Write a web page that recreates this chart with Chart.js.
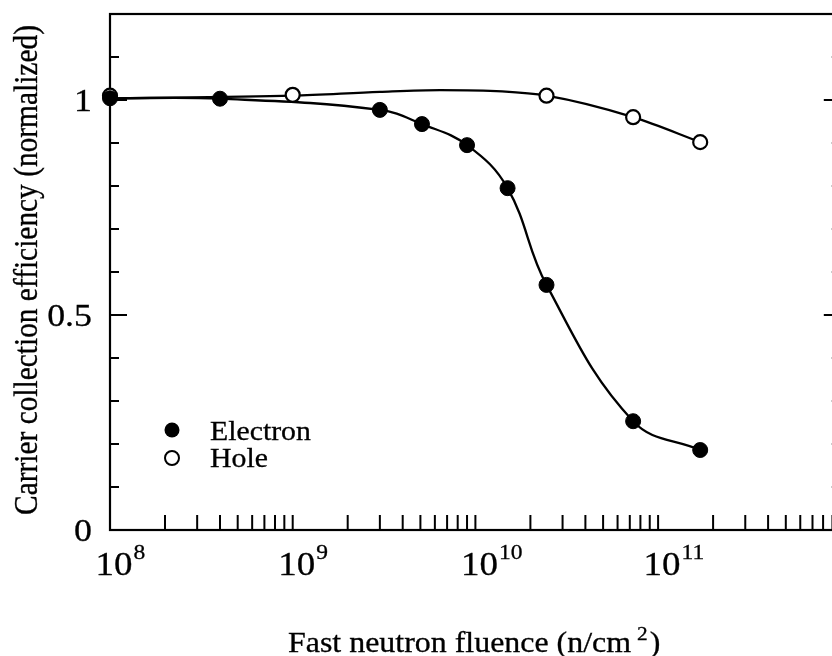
<!DOCTYPE html>
<html>
<head>
<meta charset="utf-8">
<script src="https://cdn.jsdelivr.net/npm/chart.js@4.4.1/dist/chart.umd.min.js"></script>
<style>
  html, body { margin: 0; padding: 0; background: #fff; overflow: hidden; }
  #wrap { position: relative; width: 850px; height: 656px; }
</style>
</head>
<body>
<div id="wrap"><canvas id="chart"></canvas></div>
<script>
// fast neutron fluence (n/cm^2) vs normalized carrier collection efficiency
const electronFluence = [1e8, 4.0e8, 3.0e9, 5.1e9, 9.0e9, 1.5e10, 2.45e10, 7.3e10, 1.7e11];
const electronEff     = [1.004, 1.003, 0.977, 0.944, 0.895, 0.795, 0.570, 0.253, 0.186];

const holeFluence = [1e8, 1e9, 2.45e10, 7.3e10, 1.7e11];
const holeEff     = [1.010, 1.012, 1.010, 0.960, 0.902];

// guide curve through the hole points
const holeCurveFluence = [1e8, 1e9, 3e9, 6.4e9, 1.4e10, 2.45e10, 7.3e10, 1.7e11];
const holeCurveEff     = [1.004, 1.010, 1.019, 1.023, 1.020, 1.010, 0.960, 0.902];

const yMajor = [0, 0.5, 1];
const yMajorLabels = ["0", "0.5", "1"];
const yMinor = [0.1, 0.2, 0.3, 0.4, 0.6, 0.7, 0.8, 0.9, 1.1];
const xDecades = [8, 9, 10, 11];

// tick marks on the log axis: 2..9 in every decade and the decades themselves
const xTickMarks = [];
[8, 9, 10, 11].forEach(d => {
    for (let m = 2; m <= 10; m++) xTickMarks.push(m * Math.pow(10, d));
});

const serif = '"Liberation Serif", "Times New Roman", serif';
const SX = 1.12; // the scanned figure is a bit wider than tall

function toXY(xs, ys) {
    return xs.map((v, i) => ({ x: v, y: ys[i] }));
}

function wideText(ctx, str, x, y, size, align) {
    ctx.save();
    ctx.font = size + "px " + serif;
    const w = ctx.measureText(str).width * SX;
    let left = x;
    if (align === "center") left = x - w / 2;
    if (align === "right") left = x - w;
    ctx.translate(left, y);
    ctx.scale(SX, 1);
    ctx.textAlign = "left";
    ctx.textBaseline = "alphabetic";
    ctx.fillStyle = "#000";
    ctx.strokeStyle = "#000";
    ctx.lineWidth = 0.3;
    ctx.fillText(str, 0, 0);
    ctx.strokeText(str, 0, 0);
    ctx.restore();
    return left + w;
}

const framePlugin = {
    id: "frame",
    beforeDatasetsDraw(chart) {
        const { ctx, chartArea: a, scales: { x, y } } = chart;
        ctx.save();
        ctx.strokeStyle = "#000";
        ctx.lineWidth = 2.2;
        ctx.strokeRect(a.left, a.top, a.right - a.left, a.bottom - a.top);

        ctx.lineWidth = 2;
        ctx.beginPath();
        xTickMarks.forEach(v => {
            const px = x.getPixelForValue(v);
            if (px > a.right) return;
            ctx.moveTo(px, a.bottom);
            ctx.lineTo(px, a.bottom - 15);
        });
        yMajor.forEach(v => {
            const py = y.getPixelForValue(v);
            ctx.moveTo(a.left, py); ctx.lineTo(a.left + 17, py);
            ctx.moveTo(a.right, py); ctx.lineTo(a.right - 17, py);
        });
        yMinor.forEach(v => {
            const py = y.getPixelForValue(v);
            ctx.moveTo(a.left, py); ctx.lineTo(a.left + 9, py);
            ctx.moveTo(a.right, py); ctx.lineTo(a.right - 9, py);
        });
        ctx.stroke();
        ctx.restore();
    },
    afterDraw(chart) {
        const { ctx, chartArea: a, scales: { x, y } } = chart;

        // y tick labels
        yMajor.forEach((v, i) => {
            wideText(ctx, yMajorLabels[i], a.left - 18, y.getPixelForValue(v) + 11, 32, "right");
        });

        // x tick labels 10^n
        xDecades.forEach(d => {
            const px = x.getPixelForValue(Math.pow(10, d));
            const end = wideText(ctx, "10", px + 4, a.bottom + 45, 33, "center");
            wideText(ctx, String(d), end + 1, a.bottom + 29, 21, "left");
        });

        // x title
        let end = wideText(ctx, "Fast neutron fluence (n/cm", 288, 652, 28.5, "left");
        end = wideText(ctx, "2", end + 6, 640, 19, "left");
        wideText(ctx, ")", end + 2, 652, 28.5, "left");

        // y title (rotated)
        ctx.save();
        ctx.translate(37, 270);
        ctx.rotate(-Math.PI / 2);
        ctx.scale(1, SX);
        ctx.font = "29.4px " + serif;
        ctx.textAlign = "center";
        ctx.textBaseline = "alphabetic";
        ctx.fillStyle = "#000";
        ctx.strokeStyle = "#000";
        ctx.lineWidth = 0.3;
        ctx.fillText("Carrier collection efficiency (normalized)", 0, 0);
        ctx.strokeText("Carrier collection efficiency (normalized)", 0, 0);
        ctx.restore();

        // legend
        ctx.save();
        ctx.fillStyle = "#000";
        ctx.beginPath();
        ctx.arc(172, 430, 7.5, 0, Math.PI * 2);
        ctx.fill();
        ctx.fillStyle = "#fff";
        ctx.strokeStyle = "#000";
        ctx.lineWidth = 2;
        ctx.beginPath();
        ctx.arc(172, 458, 7, 0, Math.PI * 2);
        ctx.fill();
        ctx.stroke();
        ctx.restore();
        wideText(ctx, "Electron", 210, 440, 26.6, "left");
        wideText(ctx, "Hole", 210, 467, 26.6, "left");
    }
};

new Chart(document.getElementById("chart"), {
    type: "line",
    data: {
        datasets: [
            {
                label: "Electron",
                data: toXY(electronFluence, electronEff),
                showLine: false,
                pointRadius: 7.5,
                pointBackgroundColor: "#000",
                pointBorderColor: "#000",
                pointBorderWidth: 1,
                clip: false,
                order: 0
            },
            {
                label: "Hole",
                data: toXY(holeFluence, holeEff),
                showLine: false,
                pointRadius: 7,
                pointBackgroundColor: "#fff",
                pointBorderColor: "#000",
                pointBorderWidth: 2.2,
                clip: false,
                order: 1
            },
            {
                label: "Electron fit",
                data: toXY(electronFluence, electronEff),
                borderColor: "#000",
                borderWidth: 2.3,
                pointRadius: 0,
                tension: 0.4,
                clip: false,
                order: 2
            },
            {
                label: "Hole fit",
                data: toXY(holeCurveFluence, holeCurveEff),
                borderColor: "#000",
                borderWidth: 2.3,
                pointRadius: 0,
                cubicInterpolationMode: "monotone",
                clip: false,
                order: 3
            }
        ]
    },
    options: {
        responsive: true,
        maintainAspectRatio: false,
        animation: false,
        events: [],
        layout: { padding: { left: 110, top: 14, right: 9, bottom: 126 } },
        plugins: { legend: { display: false }, tooltip: { enabled: false } },
        scales: {
            x: { type: "logarithmic", min: 1e8, max: 1e12, display: false },
            y: { type: "linear", min: 0, max: 1.2, display: false }
        }
    },
    plugins: [framePlugin]
});
</script>
</body>
</html>
